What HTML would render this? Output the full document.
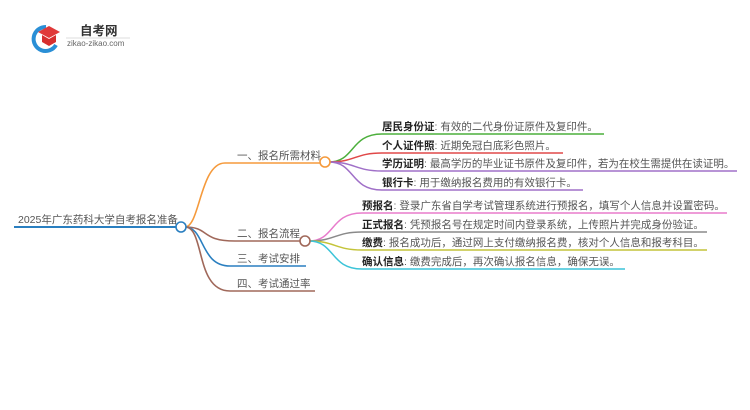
<!DOCTYPE html>
<html><head><meta charset="utf-8"><style>
html,body{margin:0;padding:0;background:#fff;}
svg{display:block;font-family:"Liberation Sans","Noto Sans CJK SC",sans-serif;}
.t{font-size:10.5px;fill:#555;}
.b{font-size:10.5px;fill:#222;font-weight:bold;}
</style></head><body>
<svg width="750" height="410" viewBox="0 0 750 410" xmlns="http://www.w3.org/2000/svg">
<!-- logo -->
<path d="M46 27 A12 12 0 1 0 56 45" fill="none" stroke="#2a8fd6" stroke-width="4"/>
<path d="M38 32 L49 26 L60 32 L49 38 Z" fill="#e03a3a"/>
<path d="M42 35 L42 42 L49 46 L56 42 L56 35 L49 39 Z" fill="#d62f2f"/>
<text x="80" y="35" font-size="12.5" font-weight="bold" fill="#333">自考网</text>
<line x1="66" y1="38" x2="130" y2="38" stroke="#ddd" stroke-width="1"/>
<text x="67" y="46" font-size="8" fill="#666">zikao-zikao.com</text>

<!-- root -->
<text x="18" y="223" class="t" font-size="11">2025年广东药科大学自考报名准备</text>
<line x1="14" y1="227" x2="177" y2="227" stroke="#2a7fc0" stroke-width="2"/>

<!-- branches -->
<path d="M185 227 C200 227,200 163,225 163 L321 163" fill="none" stroke="#f59a3c" stroke-width="1.6"/>
<path d="M185 227 C210 227,200 241,235 241 L301 241" fill="none" stroke="#a0685a" stroke-width="1.6"/>
<path d="M185 227 C205 227,200 266,230 266 L306 266" fill="none" stroke="#2a7fc0" stroke-width="1.6"/>
<path d="M185 227 C205 227,195 291,230 291 L315 291" fill="none" stroke="#a0685a" stroke-width="1.6"/>
<circle cx="181" cy="227" r="5" fill="#fff" stroke="#2a7fc0" stroke-width="1.6"/>

<text x="237" y="159" class="t">一、报名所需材料</text>
<text x="237" y="237" class="t">二、报名流程</text>
<text x="237" y="262" class="t">三、考试安排</text>
<text x="237" y="287" class="t">四、考试通过率</text>

<!-- branch 1 leaves -->
<path d="M329 162 C355 162,350 134,382 134 L604 134" fill="none" stroke="#4caf3c" stroke-width="1.5"/>
<path d="M329 162 C355 162,355 153,382 153 L563 153" fill="none" stroke="#e04848" stroke-width="1.5"/>
<path d="M329 162 C355 162,355 171,382 171 L737 171" fill="none" stroke="#a070c8" stroke-width="1.5"/>
<path d="M329 162 C355 162,350 190,382 190 L583 190" fill="none" stroke="#a070c8" stroke-width="1.5"/>
<circle cx="325" cy="162" r="5" fill="#fff" stroke="#f59a3c" stroke-width="1.6"/>
<text x="382" y="130"><tspan class="b">居民身份证</tspan><tspan class="t">:  有效的二代身份证原件及复印件。</tspan></text>
<text x="382" y="149"><tspan class="b">个人证件照</tspan><tspan class="t">:  近期免冠白底彩色照片。</tspan></text>
<text x="382" y="167"><tspan class="b">学历证明</tspan><tspan class="t">:  最高学历的毕业证书原件及复印件，若为在校生需提供在读证明。</tspan></text>
<text x="382" y="186"><tspan class="b">银行卡</tspan><tspan class="t">:  用于缴纳报名费用的有效银行卡。</tspan></text>

<!-- branch 2 leaves -->
<path d="M309 241 C335 241,330 213,362 213 L727 213" fill="none" stroke="#e87ccc" stroke-width="1.5"/>
<path d="M309 241 C335 241,335 232,362 232 L707 232" fill="none" stroke="#8a8a8a" stroke-width="1.5"/>
<path d="M309 241 C335 241,335 250,362 250 L707 250" fill="none" stroke="#c4c43a" stroke-width="1.5"/>
<path d="M309 241 C335 241,330 269,362 269 L625 269" fill="none" stroke="#3cc4d8" stroke-width="1.5"/>
<circle cx="305" cy="241" r="5" fill="#fff" stroke="#a0685a" stroke-width="1.6"/>
<text x="362" y="209"><tspan class="b">预报名</tspan><tspan class="t">:  登录广东省自学考试管理系统进行预报名，填写个人信息并设置密码。</tspan></text>
<text x="362" y="228"><tspan class="b">正式报名</tspan><tspan class="t">:  凭预报名号在规定时间内登录系统，上传照片并完成身份验证。</tspan></text>
<text x="362" y="246"><tspan class="b">缴费</tspan><tspan class="t">:  报名成功后，通过网上支付缴纳报名费，核对个人信息和报考科目。</tspan></text>
<text x="362" y="265"><tspan class="b">确认信息</tspan><tspan class="t">:  缴费完成后，再次确认报名信息，确保无误。</tspan></text>
</svg>
</body></html>
